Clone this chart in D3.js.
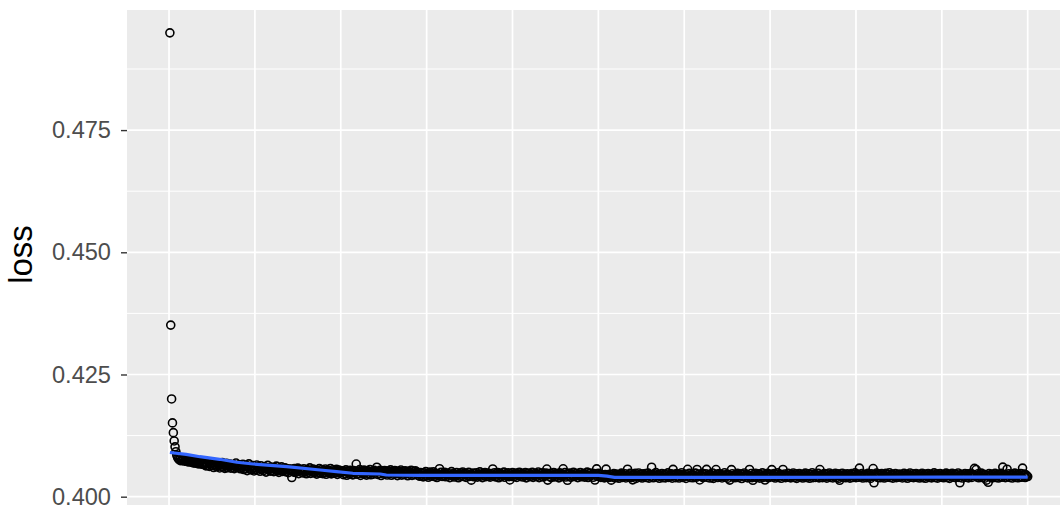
<!DOCTYPE html>
<html>
<head>
<meta charset="utf-8">
<script src="https://cdn.jsdelivr.net/npm/d3@7"></script>
<style>
  html, body { margin: 0; padding: 0; background: #ffffff; }
  svg { display: block; font-family: "Liberation Sans", Arial, Helvetica, sans-serif; }
</style>
</head>
<body>
<svg id="chart" width="1060" height="510"></svg>
<script>
// Training loss per epoch (epoch = position in the series, starting at 1)
const lossStart = [0.4949, 0.4351, 0.4200, 0.4151, 0.4131, 0.4114, 0.4102, 0.4092, 0.4085, 0.4080];

const lossA = [ // epochs 11-40
  0.40778, 0.40752, 0.40791, 0.40735, 0.40764, 0.40742, 0.40771, 0.40726, 0.40758, 0.40733,
  0.40749, 0.40712, 0.40761, 0.40724, 0.40705, 0.40739, 0.40718, 0.40692, 0.40746, 0.40708,
  0.40683, 0.40727, 0.40699, 0.40671, 0.40715, 0.40688, 0.40731, 0.40664, 0.40702, 0.40679
];

const lossB = [ // epochs 41-80
  0.40655, 0.40693, 0.40631, 0.40678, 0.40642, 0.40712, 0.40619, 0.40667, 0.40701, 0.40638,
  0.40684, 0.40597, 0.40659, 0.40626, 0.40691, 0.40613, 0.40672, 0.40645, 0.40588, 0.40663,
  0.40621, 0.40696, 0.40604, 0.40651, 0.40579, 0.40637, 0.40683, 0.40592, 0.40648, 0.40615,
  0.40669, 0.40583, 0.40634, 0.40601, 0.40657, 0.40574, 0.40622, 0.40688, 0.40596, 0.40641
];

const lossC = [ // epochs 81-140
  0.40608, 0.40652, 0.40571, 0.40629, 0.40593, 0.40664, 0.40556, 0.40617, 0.40582, 0.40641,
  0.40534, 0.40603, 0.40672, 0.40565, 0.40624, 0.40549, 0.40588, 0.40637, 0.40527, 0.40596,
  0.40561, 0.40648, 0.40542, 0.40611, 0.40577, 0.40519, 0.40632, 0.40558, 0.40594, 0.40536,
  0.40615, 0.40572, 0.40503, 0.40587, 0.40641, 0.40548, 0.40564, 0.40521, 0.40606, 0.40539,
  0.40578, 0.40512, 0.40597, 0.40553, 0.40625, 0.40529, 0.40566, 0.40498, 0.40583, 0.40544,
  0.40611, 0.40517, 0.40562, 0.40535, 0.40591, 0.40509, 0.40574, 0.40547, 0.40492, 0.40568
];

const lossD = [ // epochs 141-200
  0.40527, 0.40563, 0.40392, 0.40541, 0.40508, 0.40576, 0.40494, 0.40552, 0.40519, 0.40584,
  0.40471, 0.40538, 0.40562, 0.40503, 0.40547, 0.40486, 0.40571, 0.40515, 0.40533, 0.40468,
  0.40556, 0.40497, 0.40529, 0.40589, 0.40476, 0.40542, 0.40511, 0.40565, 0.40489, 0.40523,
  0.40548, 0.40462, 0.40537, 0.40501, 0.40574, 0.40483, 0.40519, 0.40556, 0.40472, 0.40531,
  0.40495, 0.40568, 0.40459, 0.40514, 0.40543, 0.40487, 0.40526, 0.40578, 0.40466, 0.40505,
  0.40551, 0.40479, 0.40534, 0.40492, 0.40561, 0.40457, 0.40518, 0.40546, 0.40484, 0.40527
];

const lossE = [ // epochs 201-290
  0.40496, 0.40532, 0.40451, 0.40518, 0.40474, 0.40549, 0.40438, 0.40505, 0.40527, 0.40463,
  0.40541, 0.40482, 0.40512, 0.40447, 0.40536, 0.40491, 0.40522, 0.40668, 0.40459, 0.40514,
  0.40478, 0.40553, 0.40436, 0.40502, 0.40529, 0.40467, 0.40544, 0.40489, 0.40516, 0.40442,
  0.40533, 0.40471, 0.40508, 0.40555, 0.40449, 0.40497, 0.40524, 0.40461, 0.40539, 0.40483,
  0.40511, 0.40602, 0.40455, 0.40519, 0.40476, 0.40542, 0.40433, 0.40501, 0.40528, 0.40464,
  0.40537, 0.40486, 0.40513, 0.40444, 0.40526, 0.40472, 0.40504, 0.40548, 0.40439, 0.40493,
  0.40521, 0.40458, 0.40534, 0.40479, 0.40509, 0.40431, 0.40523, 0.40468, 0.40502, 0.40545,
  0.40441, 0.40488, 0.40517, 0.40454, 0.40531, 0.40475, 0.40506, 0.40427, 0.40519, 0.40462,
  0.40498, 0.40541, 0.40437, 0.40485, 0.40514, 0.40451, 0.40528, 0.40471, 0.40503, 0.40434
];

const lossF = [ // epochs 291-510
  0.40462, 0.40418, 0.40495, 0.40437, 0.40471, 0.40406, 0.40489, 0.40443, 0.40514, 0.40428,
  0.40476, 0.40397, 0.40458, 0.40503, 0.40421, 0.40467, 0.40439, 0.40508, 0.40412, 0.40481,
  0.40449, 0.40393, 0.40472, 0.40426, 0.40572, 0.40455, 0.40501, 0.40416, 0.40463, 0.40434,
  0.40497, 0.40408, 0.40452, 0.40484, 0.40419, 0.40468, 0.40389, 0.40445, 0.40512, 0.40431,
  0.40474, 0.40403, 0.40459, 0.40427, 0.40493, 0.40441, 0.40386, 0.40466, 0.40418, 0.40487,
  0.40436, 0.40505, 0.40412, 0.40451, 0.40479, 0.40395, 0.40463, 0.40429, 0.40498, 0.40414,
  0.40457, 0.40338, 0.40446, 0.40482, 0.40407, 0.40469, 0.40424, 0.40491, 0.40401, 0.40453,
  0.40433, 0.40507, 0.40419, 0.40461, 0.40391, 0.40476, 0.40438, 0.40494, 0.40409, 0.40448,
  0.40485, 0.40416, 0.40457, 0.40399, 0.40472, 0.40428, 0.40568, 0.40442, 0.40489, 0.40405,
  0.40464, 0.40421, 0.40496, 0.40387, 0.40451, 0.40478, 0.40413, 0.40459, 0.40435, 0.40502,
  0.40398, 0.40447, 0.40471, 0.40425, 0.40488, 0.40411, 0.40342, 0.40466, 0.40432, 0.40493,
  0.40408, 0.40455, 0.40419, 0.40483, 0.40394, 0.40462, 0.40437, 0.40501, 0.40415, 0.40449,
  0.40476, 0.40402, 0.40458, 0.40427, 0.40492, 0.40384, 0.40469, 0.40441, 0.40486, 0.40409,
  0.40453, 0.40422, 0.40497, 0.40396, 0.40465, 0.40431, 0.40479, 0.40412, 0.40458, 0.40504,
  0.40388, 0.40444, 0.40473, 0.40418, 0.40489, 0.40402, 0.40461, 0.40435, 0.40482, 0.40566,
  0.40339, 0.40452, 0.40414, 0.40477, 0.40391, 0.40466, 0.40429, 0.40495, 0.40406, 0.40448,
  0.40471, 0.40417, 0.40459, 0.40385, 0.40487, 0.40433, 0.40463, 0.40411, 0.40571, 0.40446,
  0.40492, 0.40403, 0.40456, 0.40336, 0.40474, 0.40421, 0.40483, 0.40397, 0.40451, 0.40438,
  0.40499, 0.40412, 0.40467, 0.40426, 0.40481, 0.40389, 0.40455, 0.40432, 0.40494, 0.40407,
  0.40462, 0.40428, 0.40476, 0.40401, 0.40457, 0.40439, 0.40503, 0.40392, 0.40468, 0.40419,
  0.40485, 0.40436, 0.40452, 0.40398, 0.40471, 0.40341, 0.40445, 0.40569, 0.40414, 0.40477,
  0.40423, 0.40461, 0.40395, 0.40448, 0.40409, 0.40432, 0.40384, 0.40451, 0.40563, 0.40417
];

const lossG = [ // epochs 511-1000
  0.40436, 0.40392, 0.40458, 0.40411, 0.40338, 0.40447, 0.40403, 0.40472, 0.40385, 0.40429,
  0.40463, 0.40398, 0.40441, 0.40376, 0.40455, 0.40417, 0.40482, 0.40394, 0.40437, 0.40406,
  0.40469, 0.40383, 0.40425, 0.40562, 0.40448, 0.40401, 0.40476, 0.40389, 0.40433, 0.40345,
  0.40459, 0.40412, 0.40479, 0.40374, 0.40442, 0.40418, 0.40486, 0.40397, 0.40451, 0.40423,
  0.40381, 0.40466, 0.40408, 0.40439, 0.40471, 0.40393, 0.40427, 0.40484, 0.40379, 0.40452,
  0.40414, 0.40602, 0.40445, 0.40387, 0.40468, 0.40421, 0.40492, 0.40399, 0.40436, 0.40457,
  0.40377, 0.40443, 0.40409, 0.40474, 0.40391, 0.40432, 0.40461, 0.40384, 0.40449, 0.40416,
  0.40488, 0.40395, 0.40438, 0.40405, 0.40467, 0.40378, 0.40558, 0.40426, 0.40454, 0.40388,
  0.40473, 0.40413, 0.40446, 0.40382, 0.40459, 0.40428, 0.40491, 0.40396, 0.40435, 0.40404,
  0.40465, 0.40373, 0.40448, 0.40561, 0.40419, 0.40477, 0.40392, 0.40431, 0.40456, 0.40386,
  0.40442, 0.40407, 0.40483, 0.40398, 0.40557, 0.40424, 0.40462, 0.40342, 0.40437, 0.40411,
  0.40476, 0.40389, 0.40451, 0.40415, 0.40469, 0.40559, 0.40394, 0.40433, 0.40458, 0.40381,
  0.40447, 0.40402, 0.40485, 0.40375, 0.40439, 0.40421, 0.40555, 0.40463, 0.40392, 0.40428,
  0.40471, 0.40409, 0.40452, 0.40383, 0.40445, 0.40417, 0.40489, 0.40396, 0.40434, 0.40461,
  0.40378, 0.40443, 0.40339, 0.40426, 0.40554, 0.40468, 0.40401, 0.40437, 0.40387, 0.40455,
  0.40412, 0.40479, 0.40393, 0.40441, 0.40424, 0.40466, 0.40371, 0.40448, 0.40418, 0.40484,
  0.40397, 0.40436, 0.40459, 0.40385, 0.40429, 0.40556, 0.40408, 0.40473, 0.40391, 0.40336,
  0.40453, 0.40416, 0.40481, 0.40388, 0.40439, 0.40405, 0.40467, 0.40379, 0.40446, 0.40422,
  0.40487, 0.40394, 0.40431, 0.40341, 0.40458, 0.40413, 0.40476, 0.40386, 0.40444, 0.40419,
  0.40462, 0.40553, 0.40403, 0.40435, 0.40471, 0.40382, 0.40449, 0.40411, 0.40488, 0.40395,
  0.40428, 0.40457, 0.40376, 0.40442, 0.40557, 0.40417, 0.40464, 0.40389, 0.40436, 0.40406,
  0.40478, 0.40399, 0.40445, 0.40384, 0.40453, 0.40421, 0.40486, 0.40392, 0.40432, 0.40467,
  0.40374, 0.40441, 0.40408, 0.40474, 0.40397, 0.40426, 0.40459, 0.40381, 0.40447, 0.40414,
  0.40483, 0.40393, 0.40438, 0.40402, 0.40469, 0.40377, 0.40451, 0.40423, 0.40491, 0.40388,
  0.40434, 0.40461, 0.40396, 0.40443, 0.40412, 0.40476, 0.40385, 0.40555, 0.40429, 0.40454,
  0.40391, 0.40437, 0.40472, 0.40404, 0.40448, 0.40379, 0.40463, 0.40418, 0.40485, 0.40395,
  0.40427, 0.40456, 0.40383, 0.40445, 0.40409, 0.40478, 0.40392, 0.40433, 0.40466, 0.40376,
  0.40335, 0.40442, 0.40415, 0.40481, 0.40398, 0.40439, 0.40457, 0.40386, 0.40424, 0.40469,
  0.40401, 0.40446, 0.40378, 0.40435, 0.40474, 0.40393, 0.40452, 0.40419, 0.40487, 0.40389,
  0.40431, 0.40462, 0.40397, 0.40584, 0.40441, 0.40406, 0.40473, 0.40382, 0.40448, 0.40425,
  0.40458, 0.40391, 0.40437, 0.40479, 0.40403, 0.40444, 0.40374, 0.40466, 0.40412, 0.40576,
  0.40285, 0.40451, 0.40419, 0.40484, 0.40395, 0.40438, 0.40463, 0.40387, 0.40429, 0.40472,
  0.40404, 0.40445, 0.40381, 0.40433, 0.40476, 0.40397, 0.40455, 0.40416, 0.40489, 0.40392,
  0.40436, 0.40461, 0.40378, 0.40442, 0.40409, 0.40471, 0.40388, 0.40427, 0.40454, 0.40399,
  0.40465, 0.40413, 0.40447, 0.40383, 0.40439, 0.40478, 0.40394, 0.40431, 0.40459, 0.40376,
  0.40443, 0.40417, 0.40486, 0.40398, 0.40435, 0.40468, 0.40389, 0.40452, 0.40411, 0.40474,
  0.40395, 0.40429, 0.40457, 0.40382, 0.40446, 0.40405, 0.40481, 0.40391, 0.40438, 0.40463,
  0.40377, 0.40449, 0.40414, 0.40475, 0.40396, 0.40432, 0.40458, 0.40385, 0.40444, 0.40421,
  0.40488, 0.40393, 0.40437, 0.40466, 0.40379, 0.40441, 0.40408, 0.40473, 0.40399, 0.40428,
  0.40456, 0.40386, 0.40447, 0.40415, 0.40482, 0.40392, 0.40434, 0.40461, 0.40375, 0.40443,
  0.40418, 0.40477, 0.40397, 0.40436, 0.40464, 0.40388, 0.40451, 0.40409, 0.40485, 0.40394,
  0.40285, 0.40439, 0.40458, 0.40381, 0.40445, 0.40412, 0.40474, 0.40398, 0.40433, 0.40467,
  0.40384, 0.40442, 0.40419, 0.40479, 0.40395, 0.40437, 0.40455, 0.40579, 0.40426, 0.40555,
  0.40403, 0.40468, 0.40387, 0.40446, 0.40414, 0.40483, 0.40392, 0.40431, 0.40459, 0.40378,
  0.40441, 0.40338, 0.40425, 0.40295, 0.40472, 0.40399, 0.40437, 0.40462, 0.40385, 0.40448,
  0.40416, 0.40479, 0.40393, 0.40434, 0.40457, 0.40382, 0.40444, 0.40408, 0.40476, 0.40397,
  0.40605, 0.40429, 0.40453, 0.40389, 0.40442, 0.40562, 0.40411, 0.40469, 0.40394, 0.40436,
  0.40458, 0.40381, 0.40445, 0.40419, 0.40482, 0.40396, 0.40433, 0.40464, 0.40387, 0.40447,
  0.40413, 0.40475, 0.40398, 0.40585, 0.40439, 0.40461, 0.40392, 0.40448, 0.40421, 0.40412
];

// Smoothed trend of the loss, sampled at these epochs
const smoothEpochs = [1, 20, 36, 59, 79, 98, 137, 176, 195, 214, 246, 253, 292, 400, 500, 510, 519, 600, 700, 800, 900, 1000];
const smoothLoss = [0.40904, 0.40865, 0.40818, 0.40765, 0.40704, 0.40669, 0.40614, 0.40546, 0.40511, 0.40479, 0.40464, 0.40444, 0.40438, 0.40438, 0.40437, 0.40420, 0.40395, 0.40395, 0.40397, 0.40398, 0.40400, 0.40402];

// Axis breaks
const yBreaks = [0.400, 0.425, 0.450, 0.475];
const yMinorBreaks = [0.4125, 0.4375, 0.4625, 0.4875];
const xBreaks = [0, 100, 200, 300, 400, 500, 600, 700, 800, 900, 1000];

const loss = [].concat(lossStart, lossA, lossB, lossC, lossD, lossE, lossF, lossG);
const points = loss.map((v, i) => ({ epoch: i + 1, loss: v }));
const smooth = smoothEpochs.map((e, i) => ({ epoch: e, loss: smoothLoss[i] }));

// Panel geometry
const panel = { left: 127, top: 10, right: 1070.6, bottom: 505 };

const x = d3.scaleLinear().domain([-48.95, 1049.95]).range([panel.left, panel.right]);
const y = d3.scaleLinear().domain([0.39830, 0.49957]).range([panel.bottom, panel.top]);

const svg = d3.select("#chart");

svg.append("defs").append("clipPath").attr("id", "panel-clip")
  .append("rect")
  .attr("x", panel.left).attr("y", panel.top)
  .attr("width", panel.right - panel.left).attr("height", panel.bottom - panel.top);

// Panel background
svg.append("rect")
  .attr("x", panel.left).attr("y", panel.top)
  .attr("width", panel.right - panel.left).attr("height", panel.bottom - panel.top)
  .attr("fill", "#EBEBEB");

const grid = svg.append("g").attr("clip-path", "url(#panel-clip)");

// Minor horizontal grid
grid.selectAll("line.yminor").data(yMinorBreaks).join("line")
  .attr("class", "yminor")
  .attr("x1", panel.left).attr("x2", panel.right)
  .attr("y1", d => y(d)).attr("y2", d => y(d))
  .attr("stroke", "#ffffff").attr("stroke-width", 1.0);

// Major horizontal grid
grid.selectAll("line.ymajor").data(yBreaks).join("line")
  .attr("class", "ymajor")
  .attr("x1", panel.left).attr("x2", panel.right)
  .attr("y1", d => y(d)).attr("y2", d => y(d))
  .attr("stroke", "#ffffff").attr("stroke-width", 1.7);

// Vertical grid
grid.selectAll("line.xmajor").data(xBreaks).join("line")
  .attr("class", "xmajor")
  .attr("y1", panel.top).attr("y2", panel.bottom)
  .attr("x1", d => x(d)).attr("x2", d => x(d))
  .attr("stroke", "#ffffff").attr("stroke-width", 1.7);

// Loss points
const marks = svg.append("g").attr("clip-path", "url(#panel-clip)");
marks.selectAll("circle").data(points).join("circle")
  .attr("cx", d => x(d.epoch))
  .attr("cy", d => y(d.loss))
  .attr("r", 4)
  .attr("fill", "none")
  .attr("stroke", "#000000")
  .attr("stroke-width", 1.6);

// Smoothed trend
marks.append("path")
  .datum(smooth)
  .attr("fill", "none")
  .attr("stroke", "#3366FF")
  .attr("stroke-width", 3.2)
  .attr("stroke-linejoin", "round")
  .attr("d", d3.line().x(d => x(d.epoch)).y(d => y(d.loss)));

// Y axis
const yAxis = d3.axisLeft(y)
  .tickValues(yBreaks)
  .tickFormat(d3.format(".3f"))
  .tickSize(6)
  .tickPadding(10);

const yAxisG = svg.append("g")
  .attr("transform", `translate(${panel.left},0)`)
  .call(yAxis);
yAxisG.select(".domain").remove();
yAxisG.selectAll(".tick line").attr("stroke", "#333333").attr("stroke-width", 1.4);
yAxisG.selectAll(".tick text")
  .attr("fill", "#4D4D4D")
  .attr("font-size", "23.6px")
  .attr("font-family", "'Liberation Sans', Arial, Helvetica, sans-serif");

// Y axis title
svg.append("text")
  .attr("transform", `translate(32,${(panel.top + panel.bottom) / 2 - 3}) rotate(-90)`)
  .attr("text-anchor", "middle")
  .attr("font-size", "33px")
  .attr("fill", "#000000")
  .text("loss");
</script>
</body>
</html>
